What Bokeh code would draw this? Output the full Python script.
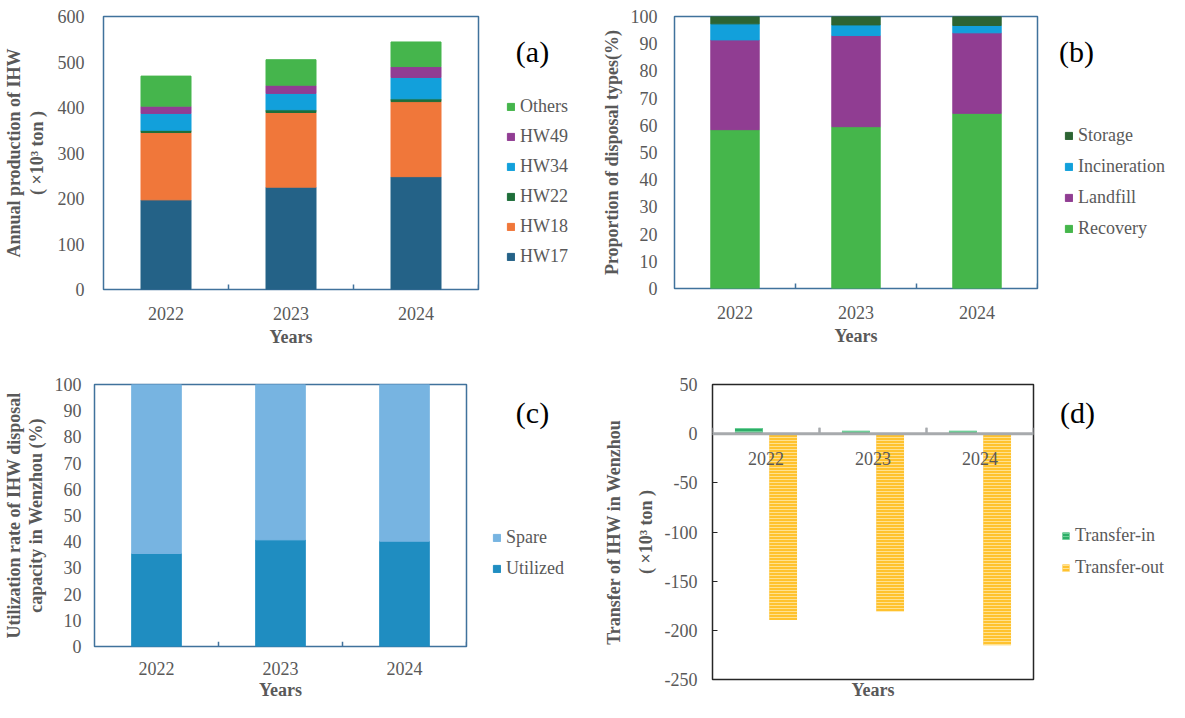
from bokeh.plotting import figure
from bokeh.models import (ColumnDataSource, FactorRange, Range1d, CategoricalAxis,
                          FixedTicker, SingleIntervalTicker, Legend, LegendItem, Label, LabelSet, Span)
from bokeh.transform import dodge
from bokeh.layouts import column, row
from bokeh.embed import file_html
from bokeh.resources import INLINE

# ---------------- data ----------------
years = ["2022", "2023", "2024"]

# (a) annual production of IHW (x10^3 ton)
a_names = ["HW17", "HW18", "HW22", "HW34", "HW49", "Others"]
hw17 = [197, 225, 248]
hw18 = [148, 164, 165]
hw22 = [5, 6, 6]
hw34 = [37, 36, 47]
hw49 = [16, 18, 24]
others = [66, 56, 54]

# (b) proportion of disposal types (%)
b_names = ["Recovery", "Landfill", "Incineration", "Storage"]
recovery = [58.4, 59.5, 64.4]
landfill = [33.0, 33.5, 29.6]
incineration = [5.9, 3.9, 2.7]
storage = [2.7, 3.1, 3.3]

# (c) utilization rate (%)
c_names = ["Utilized", "Spare"]
utilized = [35.5, 40.7, 40.2]
spare = [64.5, 59.3, 59.8]

# (d) transfer (x10^3 ton)
d_names = ["Transfer-in", "Transfer-out"]
transfer_in = [5.7, 3.0, 3.0]
transfer_out = [-189.4, -180.6, -215.2]
d_ticks = [-250, -200, -150, -100, -50, 0, 50]

# ---------------- style ----------------
FONT = "Liberation Serif"
TXT = "#595959"
FRAME = "#40729C"
DARK = "#262626"
GREY = "#A7AAAD"
a_colors = ["#246287", "#F0773A", "#1E6E3A", "#12A0DB", "#913D93", "#45B54C"]
b_colors = ["#45B64B", "#903D92", "#12A0DB", "#2D6433"]
c_colors = ["#1F8DC1", "#77B4E1"]
in_style = dict(fill_color="#2DAE68", line_color=None, hatch_pattern="horizontal_line",
                hatch_color="#6FCF98", hatch_scale=3, hatch_weight=1)
out_style = dict(fill_color="#FFC22E", line_color=None, hatch_pattern="horizontal_line",
                 hatch_color="#FFE190", hatch_scale=3, hatch_weight=1)


def base(width, height, left, right, top, bottom, yr, outline):
    p = figure(width=width, height=height, x_range=FactorRange(*years), y_range=Range1d(*yr),
               output_backend="svg", toolbar_location=None, x_axis_location=None,
               min_border_left=left, min_border_right=right,
               min_border_top=top, min_border_bottom=bottom)
    p.frame_align = False
    p.grid.grid_line_color = None
    p.outline_line_color = outline
    p.outline_line_width = 1.5
    p.outline_line_alpha = 1
    p.background_fill_color = "white"
    p.border_fill_color = "white"
    y = p.yaxis[0]
    y.axis_line_color = None
    y.major_tick_line_color = None
    y.minor_tick_line_color = None
    y.major_label_text_font = FONT
    y.major_label_text_font_size = "18px"
    y.major_label_text_color = TXT
    y.axis_label_text_font = FONT
    y.axis_label_text_font_size = "18px"
    y.axis_label_text_font_style = "bold"
    y.axis_label_text_color = TXT
    return p


def side(width, height, yr):
    # legend strip to the right of a chart: same scales, no axes
    p = figure(width=width, height=height, x_range=FactorRange(*years), y_range=Range1d(*yr),
               output_backend="svg", toolbar_location=None, x_axis_location=None,
               y_axis_location=None, min_border=0)
    p.frame_align = False
    p.grid.grid_line_color = None
    p.outline_line_color = None
    p.background_fill_color = "white"
    p.border_fill_color = "white"
    return p


def x_axis(p, src, tick_len, label_standoff=11, title_standoff=4):
    # small upward ticks on the year boundaries
    p.segment(x0=dodge("year", 0.5, range=p.x_range), x1=dodge("year", 0.5, range=p.x_range),
              y0=0, y1=tick_len, source=src, line_color=FRAME, line_width=1.5)
    cat = CategoricalAxis(axis_label="Years", axis_line_color=None, major_tick_line_color=None,
                          minor_tick_line_color=None, major_label_standoff=label_standoff,
                          major_label_text_font=FONT, major_label_text_font_size="18px",
                          major_label_text_color=TXT, axis_label_standoff=title_standoff,
                          axis_label_text_font=FONT, axis_label_text_font_size="18px",
                          axis_label_text_font_style="bold", axis_label_text_color=TXT)
    p.add_layout(cat, "below")


def legend(p, renderers, labels, vx, vy, spacing, tag, tx, ty):
    items = [LegendItem(label=l, renderers=[r]) for l, r in zip(labels, renderers)]
    lg = Legend(items=items, location=(vx, vy), orientation="vertical",
                glyph_width=9, glyph_height=9, label_height=20, spacing=spacing,
                padding=0, margin=0, label_standoff=5,
                label_text_font=FONT, label_text_font_size="18px", label_text_color=TXT,
                border_line_color=None, background_fill_alpha=0)
    p.add_layout(lg, "center")
    p.add_layout(Label(x=tx, y=ty, x_units="screen", y_units="screen", text=tag,
                       text_font=FONT, text_font_size="30px", text_color="black",
                       text_align="center", text_baseline="middle"))


TOP_H = 351
BOT_H = 351

# ---------------- (a) ----------------
src_a = ColumnDataSource(dict(year=years, HW17=hw17, HW18=hw18, HW22=hw22,
                              HW34=hw34, HW49=hw49, Others=others))
pa = base(480, TOP_H, 91, 2, 16, 62, (0, 600), FRAME)
pa.yaxis[0].ticker = SingleIntervalTicker(interval=100, num_minor_ticks=0)
pa.yaxis[0].axis_label = "Annual production of IHW\n( ×10³ ton )"
pa.yaxis[0].axis_label_text_line_height = 1.15
pa.yaxis[0].major_label_standoff = 13
pa.yaxis[0].axis_label_standoff = 8
pa.vbar_stack(a_names, x="year", width=0.4, color=a_colors, source=src_a)
x_axis(pa, src_a, 11)
la = side(112, TOP_H, (0, 600))
ra = la.vbar_stack(a_names, x="year", width=0.4, color=a_colors, source=src_a, visible=False)
legend(la, ra[::-1], a_names[::-1], 26, 84, 9, "(a)", 52, 300)

# ---------------- (b) ----------------
src_b = ColumnDataSource(dict(year=years, Recovery=recovery, Landfill=landfill,
                              Incineration=incineration, Storage=storage))
pb = base(447, TOP_H, 82, 2, 16, 63, (0, 100), FRAME)
pb.yaxis[0].ticker = SingleIntervalTicker(interval=10, num_minor_ticks=0)
pb.yaxis[0].axis_label = "Proportion of disposal types(%)"
pb.yaxis[0].major_label_standoff = 11
pb.yaxis[0].axis_label_standoff = 6
pb.vbar_stack(b_names, x="year", width=0.4, color=b_colors, source=src_b)
x_axis(pb, src_b, 1.8)
lb = side(130, TOP_H, (0, 100))
rb = lb.vbar_stack(b_names, x="year", width=0.4, color=b_colors, source=src_b, visible=False)
legend(lb, rb[::-1], b_names[::-1], 25, 112, 10, "(b)", 37, 300)

# ---------------- (c) ----------------
src_c = ColumnDataSource(dict(year=years, Utilized=utilized, Spare=spare))
pc = base(468, BOT_H, 89, 2, 33, 53, (0, 100), FRAME)
pc.yaxis[0].ticker = SingleIntervalTicker(interval=10, num_minor_ticks=0)
pc.yaxis[0].axis_label = "Utilization rate of IHW disposal\ncapacity in Wenzhou (%)"
pc.yaxis[0].axis_label_text_line_height = 1.1
pc.yaxis[0].major_label_standoff = 7
pc.yaxis[0].axis_label_standoff = 6
pc.vbar_stack(c_names, x="year", width=0.4, color=c_colors, source=src_c)
x_axis(pc, src_c, 1.8, label_standoff=9, title_standoff=2)
lc = side(124, BOT_H, (0, 100))
rc = lc.vbar_stack(c_names, x="year", width=0.4, color=c_colors, source=src_c, visible=False)
legend(lc, rc[::-1], c_names[::-1], 24, 123, 10, "(c)", 64, 290)

# ---------------- (d) ----------------
src_d = ColumnDataSource(dict(year=years, tin=transfer_in, tout=transfer_out))
pd_ = base(443, BOT_H, 120, 2, 33, 21, (-250, 50), DARK)
yd = pd_.yaxis[0]
yd.ticker = FixedTicker(ticks=d_ticks)
yd.major_label_overrides = {t: str(t) for t in d_ticks}
yd.major_tick_line_color = DARK
yd.major_tick_in = 5
yd.major_tick_out = 0
yd.major_label_standoff = 15
yd.axis_label = "Transfer of IHW in Wenzhou\n( ×10³ ton )"
yd.axis_label_text_line_height = 1.6
yd.axis_label_standoff = 6
pd_.vbar(x=dodge("year", -0.16, range=pd_.x_range), top="tin", bottom=0, width=0.26,
         source=src_d, **in_style)
pd_.vbar(x=dodge("year", 0.16, range=pd_.x_range), top=0, bottom="tout", width=0.26,
         source=src_d, **out_style)
pd_.add_layout(Span(location=0, dimension="width", line_color=GREY, line_width=3))
pd_.segment(x0=dodge("year", 0.5, range=pd_.x_range), x1=dodge("year", 0.5, range=pd_.x_range),
            y0=-1, y1=6, source=src_d, line_color=GREY, line_width=2)
pd_.segment(x0=dodge("year", -0.5, range=pd_.x_range), x1=dodge("year", -0.5, range=pd_.x_range),
            y0=-1, y1=6, source=src_d, line_color=GREY, line_width=2)
pd_.add_layout(LabelSet(x="year", y=0, text="year", source=src_d, y_offset=-25,
                        text_align="center", text_baseline="middle", text_font=FONT,
                        text_font_size="18px", text_color=TXT))
cat_d = CategoricalAxis(axis_label="Years", axis_line_color=None, major_tick_line_color=None,
                        minor_tick_line_color=None, ticker=FixedTicker(ticks=[]),
                        major_label_standoff=0, axis_label_standoff=0,
                        axis_label_text_font=FONT,
                        axis_label_text_font_size="18px", axis_label_text_font_style="bold",
                        axis_label_text_color=TXT)
pd_.add_layout(cat_d, "below")
ld = side(134, BOT_H, (-250, 50))
r_in = ld.vbar(x=dodge("year", -0.16, range=ld.x_range), top="tin", bottom=0, width=0.26,
               source=src_d, visible=False, **in_style)
r_out = ld.vbar(x=dodge("year", 0.16, range=ld.x_range), top=0, bottom="tout", width=0.26,
                source=src_d, visible=False, **out_style)
legend(ld, [r_in, r_out], d_names, 26, 124, 11, "(d)", 42, 290)

layout = column(row(pa, la, pb, lb), row(pc, lc, pd_, ld))

open("out.html", "w").write(file_html(layout, INLINE))
